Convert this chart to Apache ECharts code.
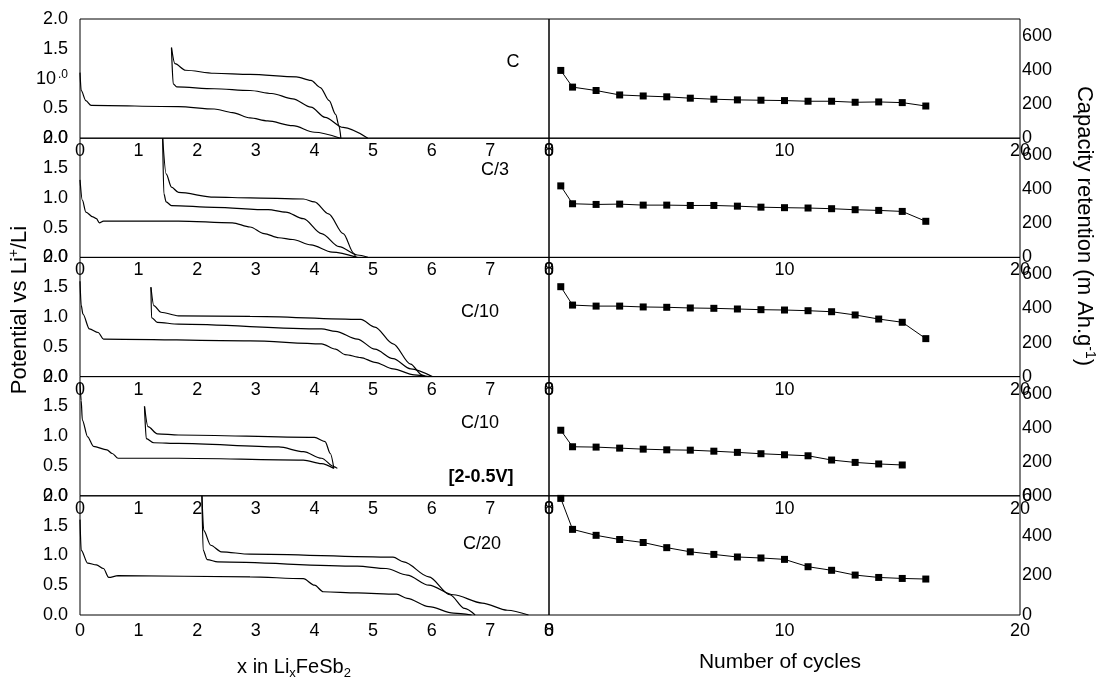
<!DOCTYPE html>
<html lang="en">
  <head>
    <meta charset="UTF-8" />
    <title>LixFeSb2 cycling</title>
    <style>
      html, body { margin: 0; padding: 0; background: #fff; }
      #main { width: 1101px; height: 678px; }
    </style>
  </head>
  <body>
    <div id="main"></div>
    <script src="https://cdn.jsdelivr.net/npm/echarts@6.0.0/dist/echarts.min.js"></script>
    <script>
      const myChart = echarts.init(document.getElementById('main'))
      const FONT = 'Liberation Sans, Arial, sans-serif'

      // left panels: [x in LixFeSb2, potential V]  (first discharge / charge / second discharge)
      var r1Dis1 = [[0, 1.1], [0.02, 0.8], [0.1, 0.63], [0.19, 0.55], [1.68, 0.53], [2.29, 0.49], [2.6, 0.43], [2.9, 0.34], [3.2, 0.29], [3.63, 0.21], [4.0, 0.1], [4.44, 0]]
      var r1Chg = [[1.56, 1.52], [1.62, 1.25], [1.8, 1.14], [2.29, 1.09], [2.9, 1.07], [3.69, 1.03], [3.94, 0.97], [4.1, 0.85], [4.25, 0.63], [4.36, 0.4], [4.42, 0.2], [4.45, 0]]
      var r1Dis2 = [[1.56, 1.52], [1.59, 0.91], [1.65, 0.86], [2.29, 0.83], [2.9, 0.8], [3.27, 0.75], [3.63, 0.66], [3.94, 0.52], [4.18, 0.35], [4.49, 0.18], [4.91, 0]]

      var r2Dis1 = [[0, 1.3], [0.04, 0.96], [0.1, 0.76], [0.22, 0.68], [0.28, 0.65], [0.33, 0.58], [0.4, 0.61], [1.68, 0.61], [2.6, 0.58], [2.9, 0.51], [3.14, 0.4], [3.39, 0.33], [3.63, 0.3], [3.94, 0.21], [4.3, 0.09], [4.73, 0]]
      var r2Chg = [[1.41, 2.0], [1.47, 1.4], [1.56, 1.18], [1.68, 1.09], [2.29, 1.01], [2.9, 1.0], [3.81, 0.98], [4.0, 0.93], [4.24, 0.73], [4.49, 0.4], [4.67, 0.07], [4.7, 0]]
      var r2Dis2 = [[1.41, 2.0], [1.43, 1.07], [1.47, 0.93], [1.56, 0.87], [2.29, 0.84], [3.21, 0.8], [3.51, 0.76], [3.81, 0.65], [4.12, 0.4], [4.42, 0.18], [4.73, 0.04], [4.91, 0]]

      var r3Dis1 = [[0, 1.6], [0.02, 1.2], [0.05, 1.05], [0.16, 0.8], [0.31, 0.74], [0.4, 0.63], [2.9, 0.6], [4.12, 0.55], [4.36, 0.46], [4.52, 0.37], [4.79, 0.32], [5.03, 0.24], [5.34, 0.13], [5.7, 0.03], [5.95, 0]]
      var r3Chg = [[1.21, 1.5], [1.26, 1.19], [1.38, 1.08], [1.68, 1.02], [2.9, 1.01], [4.79, 0.96], [5.03, 0.83], [5.34, 0.55], [5.64, 0.21], [5.83, 0.03], [5.89, 0]]
      var r3Dis2 = [[1.21, 1.5], [1.22, 0.99], [1.32, 0.91], [1.68, 0.88], [4.12, 0.8], [4.36, 0.76], [4.73, 0.63], [5.03, 0.46], [5.34, 0.3], [5.64, 0.13], [6.01, 0]]

      var r4Dis1 = [[0, 1.9], [0.02, 1.6], [0.04, 1.27], [0.13, 0.99], [0.23, 0.83], [0.46, 0.77], [0.55, 0.71], [0.65, 0.63], [1.68, 0.63], [3.81, 0.6], [4.12, 0.54], [4.33, 0.46]]
      var r4Chg = [[1.1, 1.5], [1.16, 1.16], [1.32, 1.04], [1.68, 1.02], [4.0, 0.98], [4.18, 0.91], [4.27, 0.71], [4.33, 0.46]]
      var r4Dis2 = [[1.1, 1.5], [1.13, 0.96], [1.26, 0.89], [1.68, 0.88], [3.39, 0.82], [3.81, 0.74], [4.12, 0.63], [4.33, 0.49], [4.39, 0.46]]

      var r5Dis1 = [[0, 1.6], [0.02, 1.09], [0.13, 0.87], [0.28, 0.84], [0.4, 0.78], [0.49, 0.63], [0.65, 0.66], [2.9, 0.64], [3.81, 0.61], [4.0, 0.5], [4.15, 0.39], [4.73, 0.37], [5.4, 0.35], [5.58, 0.28], [5.95, 0.14], [6.37, 0.03], [6.68, 0]]
      var r5Chg = [[2.08, 2.0], [2.11, 1.42], [2.23, 1.17], [2.41, 1.06], [2.9, 1.02], [5.34, 0.97], [5.52, 0.89], [5.95, 0.64], [6.31, 0.34], [6.56, 0.11], [6.74, 0]]
      var r5Dis2 = [[2.08, 2.0], [2.1, 1.09], [2.17, 0.93], [2.35, 0.89], [4.73, 0.82], [5.22, 0.78], [5.58, 0.67], [5.95, 0.5], [6.37, 0.34], [6.86, 0.2], [7.29, 0.08], [7.65, 0]]

      // right panels: capacity retention (mAh/g) per cycle
      var cycles = [0.5, 1, 2, 3, 4, 5, 6, 7, 8, 9, 10, 11, 12, 13, 14, 15, 16]
      var capC = [398, 300, 280, 254, 248, 243, 235, 229, 225, 223, 221, 217, 217, 211, 213, 209, 189]
      var capC3 = [420, 315, 311, 313, 307, 307, 305, 305, 301, 295, 292, 290, 286, 280, 276, 270, 212]
      var capC10 = [528, 420, 414, 414, 409, 407, 403, 401, 397, 393, 391, 387, 381, 362, 338, 319, 223]
      var capC10b = [385, 288, 286, 280, 274, 270, 268, 262, 255, 247, 241, 235, 210, 196, 187, 181]
      var capC20 = [587, 431, 401, 380, 365, 339, 318, 305, 292, 287, 280, 243, 225, 201, 189, 184, 181]
      var capMax = [700, 700, 700, 700, 600]

      var rateLabels = ['C', 'C/3', 'C/10', 'C/10', 'C/20']

      var curves = [
        [r1Dis1, r1Chg, r1Dis2],
        [r2Dis1, r2Chg, r2Dis2],
        [r3Dis1, r3Chg, r3Dis2],
        [r4Dis1, r4Chg, r4Dis2],
        [r5Dis1, r5Chg, r5Dis2]
      ]
      var caps = [capC, capC3, capC10, capC10b, capC20]

      var top0 = 19
      var rowH = 119.2
      var grid = [], xAxis = [], yAxis = [], series = []

      var labelBase = { color: '#000', fontFamily: FONT, fontSize: 18 }

      for (let r = 0; r < 5; r++) {
        const rowTop = top0 + r * rowH
        const last = r === 4
        // left: potential
        grid.push({ left: 80, width: 469, top: rowTop, height: rowH, show: true, borderColor: '#000', borderWidth: 1 })
        // right: capacity
        grid.push({ left: 549, width: 471, top: rowTop, height: rowH, show: true, borderColor: '#000', borderWidth: 1 })

        const gl = r * 2, gr = r * 2 + 1
        xAxis.push({
          gridIndex: gl, type: 'value', min: 0, max: 8, interval: 1,
          axisLine: { show: false }, axisTick: { show: false }, splitLine: { show: false },
          axisLabel: Object.assign({ margin: last ? 7 : 4 }, labelBase)
        })
        xAxis.push({
          gridIndex: gr, type: 'value', min: 0, max: 20, interval: 10,
          axisLine: { show: false }, axisTick: { show: false }, splitLine: { show: false },
          axisLabel: Object.assign({ margin: last ? 7 : 4 }, labelBase)
        })
        yAxis.push({
          gridIndex: gl, type: 'value', min: 0, max: 2, interval: 0.5,
          axisLine: { show: false }, axisTick: { show: false }, splitLine: { show: false },
          axisLabel: Object.assign({
            margin: 12,
            formatter: function (v) {
              if (r === 0 && v === 1) return '{a|10}{b|.0}'
              return v.toFixed(1)
            },
            rich: {
              a: { fontSize: 18, fontFamily: FONT, color: '#000' },
              b: { fontSize: 12, fontFamily: FONT, color: '#000', padding: [0, 0, 8, 2] }
            }
          }, labelBase)
        })
        yAxis.push({
          gridIndex: gr, type: 'value', position: 'right', min: 0, max: capMax[r], interval: 200,
          axisLine: { show: false }, axisTick: { show: false }, splitLine: { show: false },
          axisLabel: Object.assign({
            margin: 2,
            formatter: function (v) { return v > 600 ? '' : String(v) }
          }, labelBase)
        })

        curves[r].forEach(function (c) {
          series.push({
            type: 'line', xAxisIndex: gl, yAxisIndex: gl, data: c,
            showSymbol: false, smooth: 0.3, smoothMonotone: 'x',
            lineStyle: { color: '#000', width: 1.2 }, silent: true
          })
        })
        series.push({
          type: 'line', xAxisIndex: gr, yAxisIndex: gr,
          data: caps[r].map(function (v, i) { return [cycles[i], v] }),
          symbol: 'rect', symbolSize: 7,
          itemStyle: { color: '#000' },
          lineStyle: { color: '#000', width: 1 }, silent: true
        })
      }

      function rateText(t, x, y, bold) {
        return {
          type: 'text', x: x, y: y,
          style: { text: t, fill: '#000', font: (bold ? 'bold ' : '') + '18px ' + FONT, align: 'center', verticalAlign: 'middle' }
        }
      }

      var option = {
        backgroundColor: '#fff',
        animation: false,
        grid: grid,
        xAxis: xAxis,
        yAxis: yAxis,
        series: series,
        graphic: [
          rateText(rateLabels[0], 513, 62),
          rateText(rateLabels[1], 495, 170),
          rateText(rateLabels[2], 480, 312),
          rateText(rateLabels[3], 480, 423),
          rateText('[2-0.5V]', 481, 477, true),
          rateText(rateLabels[4], 482, 544),
          {
            type: 'text', x: 20, y: 310, rotation: Math.PI / 2,
            style: {
              text: 'Potential vs Li{sup|+}/Li', fill: '#000', font: '22px ' + FONT,
              align: 'center', verticalAlign: 'middle',
              rich: { sup: { fontSize: 14, fontFamily: FONT, fill: '#000', padding: [0, 0, 12, 0] } }
            }
          },
          {
            type: 'text', x: 1084, y: 226, rotation: -Math.PI / 2,
            style: {
              text: 'Capacity retention (m Ah.g{sup|-1})', fill: '#000', font: '22px ' + FONT,
              align: 'center', verticalAlign: 'middle',
              rich: { sup: { fontSize: 14, fontFamily: FONT, fill: '#000', padding: [0, 0, 12, 0] } }
            }
          },
          {
            type: 'text', x: 294, y: 667,
            style: {
              text: 'x in Li{sub|x}FeSb{sub|2}', fill: '#000', font: '20px ' + FONT,
              align: 'center', verticalAlign: 'middle',
              rich: { sub: { fontSize: 13, fontFamily: FONT, fill: '#000', padding: [12, 0, 0, 0] } }
            }
          },
          {
            type: 'text', x: 780, y: 662,
            style: { text: 'Number of cycles', fill: '#000', font: '21px ' + FONT, align: 'center', verticalAlign: 'middle' }
          }
        ]
      }

      myChart.setOption(option)
    </script>
  </body>
</html>
